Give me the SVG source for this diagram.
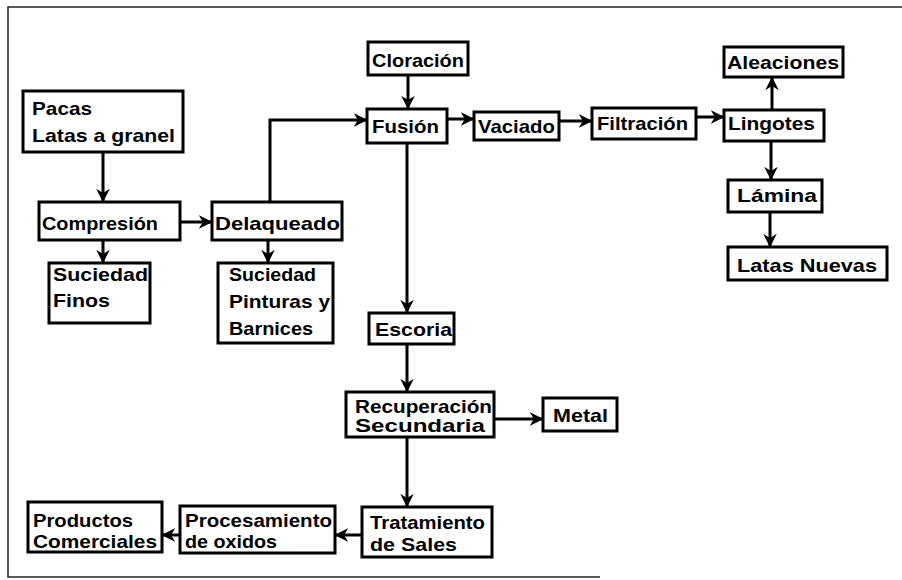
<svg xmlns="http://www.w3.org/2000/svg" width="902" height="580" viewBox="0 0 902 580">
<style>
.box{fill:#fff;stroke:#000;stroke-width:3}
.t{font-family:"Liberation Sans",Arial,sans-serif;font-weight:bold;font-size:18.5px;fill:#000}
.c{fill:none;stroke:#000;stroke-width:3}
.frame{fill:none;stroke:#222;stroke-width:1.5}
</style>
<defs>
<marker id="ah" viewBox="0 0 10 10" refX="9" refY="5" markerWidth="4.5" markerHeight="4.5" orient="auto" markerUnits="strokeWidth">
<path d="M0,0 L10,5 L0,10 L3,5 Z" fill="#000"/>
</marker>
</defs>
<rect width="902" height="580" fill="#fff"/>
<g id="frame">
<path class="frame" d="M902,7 L8,7 L8,577 L600,577"/>
</g>
<g id="connectors">
<path class="c" d="M103,152 V201" marker-end="url(#ah)"/>
<path class="c" d="M103,240 V262" marker-end="url(#ah)"/>
<path class="c" d="M180,222 H211" marker-end="url(#ah)"/>
<path class="c" d="M268,240 V262" marker-end="url(#ah)"/>
<path class="c" d="M270,202 V120 H366" marker-end="url(#ah)"/>
<path class="c" d="M408,75 V108" marker-end="url(#ah)"/>
<path class="c" d="M447,119 H473" marker-end="url(#ah)"/>
<path class="c" d="M559,121 H591" marker-end="url(#ah)"/>
<path class="c" d="M696,117 H723" marker-end="url(#ah)"/>
<path class="c" d="M772,110 V78" marker-end="url(#ah)"/>
<path class="c" d="M771,141 V179" marker-end="url(#ah)"/>
<path class="c" d="M770,212 V246" marker-end="url(#ah)"/>
<path class="c" d="M407,143 V312" marker-end="url(#ah)"/>
<path class="c" d="M407,344 V391" marker-end="url(#ah)"/>
<path class="c" d="M494,419 H542" marker-end="url(#ah)"/>
<path class="c" d="M407,437 V506" marker-end="url(#ah)"/>
<path class="c" d="M362,535 H336" marker-end="url(#ah)"/>
<path class="c" d="M180,535 H163" marker-end="url(#ah)"/>
</g>
<g id="pacas"><rect class="box" x="23" y="91" width="160" height="61"/>
<text class="t" x="32" y="115" textLength="60" lengthAdjust="spacingAndGlyphs">Pacas</text>
<text class="t" x="32" y="142" textLength="143" lengthAdjust="spacingAndGlyphs">Latas a granel</text></g>
<g id="cloracion"><rect class="box" x="368" y="42" width="100" height="33"/>
<text class="t" x="372" y="67" textLength="92" lengthAdjust="spacingAndGlyphs">Cloración</text></g>
<g id="fusion"><rect class="box" x="367" y="109" width="80" height="34"/>
<text class="t" x="372" y="133" textLength="67" lengthAdjust="spacingAndGlyphs">Fusión</text></g>
<g id="vaciado"><rect class="box" x="474" y="112" width="85" height="28"/>
<text class="t" x="478" y="133" textLength="77" lengthAdjust="spacingAndGlyphs">Vaciado</text></g>
<g id="filtracion"><rect class="box" x="592" y="108" width="104" height="31"/>
<text class="t" x="597" y="130" textLength="91" lengthAdjust="spacingAndGlyphs">Filtración</text></g>
<g id="lingotes"><rect class="box" x="724" y="110" width="100" height="31"/>
<text class="t" x="728" y="130" textLength="87" lengthAdjust="spacingAndGlyphs">Lingotes</text></g>
<g id="aleaciones"><rect class="box" x="724" y="47" width="119" height="30"/>
<text class="t" x="727" y="69" textLength="112" lengthAdjust="spacingAndGlyphs">Aleaciones</text></g>
<g id="lamina"><rect class="box" x="728" y="180" width="94" height="32"/>
<text class="t" x="737" y="202" textLength="80" lengthAdjust="spacingAndGlyphs">Lámina</text></g>
<g id="latasnuevas"><rect class="box" x="728" y="247" width="159" height="33"/>
<text class="t" x="737" y="272" textLength="140" lengthAdjust="spacingAndGlyphs">Latas Nuevas</text></g>
<g id="compresion"><rect class="box" x="39" y="202" width="141" height="38"/>
<text class="t" x="42" y="230" textLength="116" lengthAdjust="spacingAndGlyphs">Compresión</text></g>
<g id="delaqueado"><rect class="box" x="212" y="202" width="130" height="38"/>
<text class="t" x="215" y="230" textLength="125" lengthAdjust="spacingAndGlyphs">Delaqueado</text></g>
<g id="suciedadfinos"><rect class="box" x="49" y="263" width="101" height="60"/>
<text class="t" x="53" y="281" textLength="95" lengthAdjust="spacingAndGlyphs">Suciedad</text>
<text class="t" x="53" y="307" textLength="57" lengthAdjust="spacingAndGlyphs">Finos</text></g>
<g id="suciedadpinturas"><rect class="box" x="218" y="263" width="115" height="80"/>
<text class="t" x="229" y="281" textLength="87" lengthAdjust="spacingAndGlyphs">Suciedad</text>
<text class="t" x="229" y="308" textLength="101" lengthAdjust="spacingAndGlyphs">Pinturas y</text>
<text class="t" x="229" y="335" textLength="84" lengthAdjust="spacingAndGlyphs">Barnices</text></g>
<g id="escoria"><rect class="box" x="369" y="313" width="85" height="31"/>
<text class="t" x="375" y="336" textLength="77" lengthAdjust="spacingAndGlyphs">Escoria</text></g>
<g id="recuperacion"><rect class="box" x="346" y="392" width="148" height="45"/>
<text class="t" x="355" y="413" textLength="137" lengthAdjust="spacingAndGlyphs">Recuperación</text>
<text class="t" x="355" y="432" textLength="130" lengthAdjust="spacingAndGlyphs">Secundaria</text></g>
<g id="metal"><rect class="box" x="543" y="398" width="74" height="33"/>
<text class="t" x="553" y="422" textLength="55" lengthAdjust="spacingAndGlyphs">Metal</text></g>
<g id="tratamiento"><rect class="box" x="362" y="507" width="130" height="50"/>
<text class="t" x="370" y="529" textLength="115" lengthAdjust="spacingAndGlyphs">Tratamiento</text>
<text class="t" x="370" y="551" textLength="87" lengthAdjust="spacingAndGlyphs">de Sales</text></g>
<g id="procesamiento"><rect class="box" x="180" y="506" width="155" height="47"/>
<text class="t" x="185" y="527" textLength="147" lengthAdjust="spacingAndGlyphs">Procesamiento</text>
<text class="t" x="185" y="548" textLength="92" lengthAdjust="spacingAndGlyphs">de oxidos</text></g>
<g id="productos"><rect class="box" x="28" y="502" width="134" height="50"/>
<text class="t" x="33" y="527" textLength="100" lengthAdjust="spacingAndGlyphs">Productos</text>
<text class="t" x="33" y="548" textLength="124" lengthAdjust="spacingAndGlyphs">Comerciales</text></g>
</svg>
